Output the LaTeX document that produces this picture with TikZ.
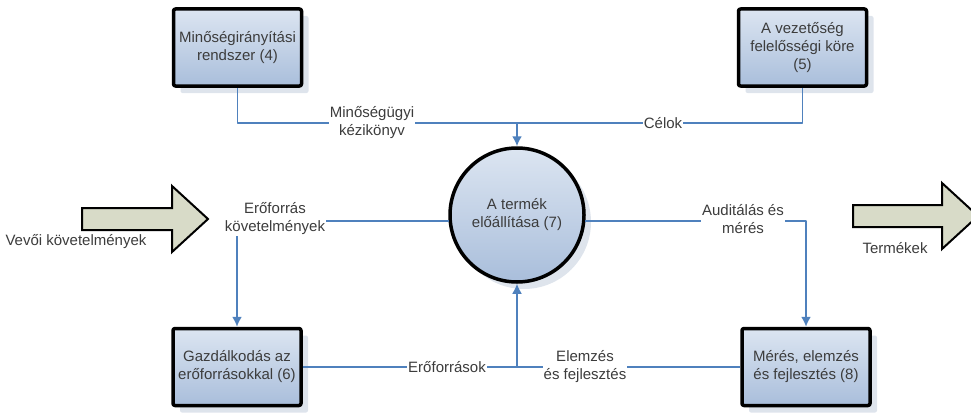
\documentclass[tikz,border=0pt]{standalone}
\usepackage{fontspec}
\setmainfont{Liberation Sans}
\usetikzlibrary{arrows.meta,shadows}
\definecolor{edgecol}{HTML}{4F81BD}
\definecolor{textcol}{HTML}{3C3C3C}
\definecolor{boxtop}{HTML}{DCE5F1}
\definecolor{boxbot}{HTML}{A9BEDB}
\definecolor{shadecol}{HTML}{DEE4EC}
\definecolor{arrowfill}{HTML}{D8DBC8}
\begin{document}
\begin{tikzpicture}[>={Latex[length=10bp,width=10bp]},line join=bevel,x=1bp,y=1bp,
  every node/.style={text=textcol,font=\fontsize{15bp}{18bp}\selectfont},
  process/.style={draw=black,line width=3.5bp,rounded corners=2bp,minimum width=128bp,
    minimum height=77bp,align=center,top color=boxtop,bottom color=boxbot,
    drop shadow={shadow xshift=7bp,shadow yshift=-7bp,fill=shadecol,opacity=1}},
  hub/.style={circle,draw=black,line width=3.5bp,minimum size=134bp,align=center,
    top color=boxtop,bottom color=boxbot,
    drop shadow={shadow xshift=7bp,shadow yshift=-7bp,fill=shadecol,opacity=1}},
  flow/.style={draw=edgecol,line width=1.8bp},
  flowtext/.style={fill=white,inner sep=1bp,align=center},
  bigarrow/.style={draw=black,line width=2bp,fill=arrowfill,line join=miter},
]
\useasboundingbox (0,0) rectangle (971,412);
%%
  % Input / output arrows
  \draw [bigarrow] (82,182) -- (172,182) -- (172,160) -- (208,193) -- (172,226) -- (172,204) -- (82,204) -- cycle;
  \draw [bigarrow] (853,185) -- (942,185) -- (942,163) -- (978,196) -- (942,229) -- (942,207) -- (853,207) -- cycle;
  \node (vevo) at (76,170) {Vevői követelmények};
  \node (termekek) at (895,164) {Termékek};
  % Node: rendszer
  \node [process] (rendszer) at (237.5,364.5) {Minőségirányítási\\rendszer (4)};
  % Node: vezetoseg
  \node [process] (vezetoseg) at (802.5,364.5) {A vezetőség\\felelősségi köre\\(5)};
  % Node: gazdalkodas
  \node [process] (gazdalkodas) at (237,45) {Gazdálkodás az\\erőforrásokkal (6)};
  % Node: meres
  \node [process] (meres) at (806,45) {Mérés, elemzés\\és fejlesztés (8)};
  % Node: termek
  \node [hub] (termek) at (517,197) {A termék\\előállítása (7)};
  \coordinate (jtop) at (517,289);
  \coordinate (jbot) at (termek.south |- gazdalkodas.east);
  % Edge: rendszer -> termek
  \draw [flow] (rendszer.south) |- (jtop);
  \node [flowtext] (kezikonyv) at (372,289) {Minőségügyi\\kézikönyv};
  % Edge: vezetoseg -> termek
  \draw [flow] (vezetoseg.south) |- (jtop);
  \node [flowtext] (celok) at (663,289) {Célok};
  \draw [flow,->] (jtop) -- (termek.north);
  % Edge: termek -> gazdalkodas
  \draw [flow,->] (termek.185) -| (gazdalkodas.north);
  \node [flowtext] (igenyek) at (275,193) {Erőforrás\\követelmények};
  % Edge: termek -> meres
  \draw [flow,->] (termek.-5) -| (meres.north);
  \node [flowtext] (audit) at (743,193) {Auditálás és\\mérés};
  % Edge: gazdalkodas -> termek
  \draw [flow] (gazdalkodas.east) -- (jbot);
  \node [flowtext] (eroforrasok) at (447,45) {Erőforrások};
  % Edge: meres -> termek
  \draw [flow] (meres.west) -- (jbot);
  \node [flowtext] (elemzes) at (585,45) {Elemzés\\és fejlesztés};
  \draw [flow,->] (jbot) -- (termek.south);
%
\end{tikzpicture}
\end{document}
